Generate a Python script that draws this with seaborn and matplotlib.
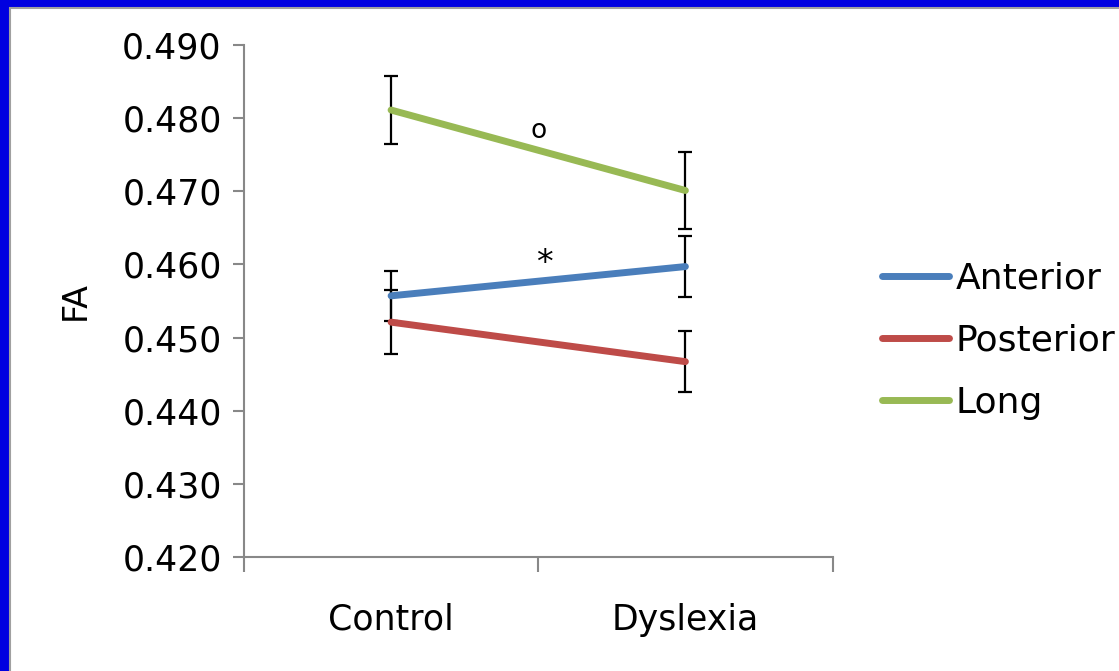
import pandas as pd
import matplotlib.pyplot as plt
import seaborn as sns
from matplotlib.patches import Rectangle

sns.set_style('white')
plt.rcParams['font.family'] = ['DejaVu Sans']
plt.rcParams['text.color'] = 'black'
plt.rcParams['axes.labelcolor'] = 'black'
plt.rcParams['xtick.color'] = '#888888'
plt.rcParams['ytick.color'] = '#888888'
plt.rcParams['xtick.labelcolor'] = 'black'
plt.rcParams['ytick.labelcolor'] = 'black'

groups = ['Control', 'Dyslexia']
regions = ['Anterior', 'Posterior', 'Long']
anterior = [0.4557, 0.4597]
posterior = [0.4521, 0.4467]
long_fa = [0.4811, 0.4701]
anterior_err = [0.0034, 0.0042]
posterior_err = [0.0044, 0.0042]
long_err = [0.0047, 0.0052]
colors = ['#4A7EBB', '#BE4B48', '#98B954']
yticks = [0.420, 0.430, 0.440, 0.450, 0.460, 0.470, 0.480, 0.490]

means = {'Anterior': anterior, 'Posterior': posterior, 'Long': long_fa}
errs = {'Anterior': anterior_err, 'Posterior': posterior_err, 'Long': long_err}

rows = []
for r in regions:
    for g, v, e in zip(groups, means[r], errs[r]):
        rows.append({'group': g, 'region': r, 'FA': v, 'err': e})
df = pd.DataFrame(rows)

fig = plt.figure(figsize=(11.19, 6.71), dpi=100)
fig.patch.set_facecolor('#0000E0')
# white slide area with thin grey edge
fig.patches.append(Rectangle((10 / 1119, -0.05), 1.1, 1.05 - 8 / 671,
                             transform=fig.transFigure, facecolor='white',
                             edgecolor='#A0A0A0', linewidth=1.5, zorder=-1))

ax = fig.add_axes([0.218, 0.170, 0.526, 0.763])
ax.set_facecolor('none')

# error bars underneath the lines
for r in regions:
    sub = df[df['region'] == r]
    ax.errorbar(sub['group'], sub['FA'], yerr=sub['err'], fmt='none',
                ecolor='black', elinewidth=1.6, capsize=4.7, capthick=1.6, zorder=2)

sns.lineplot(data=df, x='group', y='FA', hue='region', hue_order=regions,
             palette=colors, linewidth=5, solid_capstyle='round', ax=ax, zorder=3)

ax.text(0.5, 0.4782, 'o', ha='center', va='center', fontsize=19)
ax.text(0.52, 0.4601, '*', ha='center', va='center', fontsize=24)

ax.set_ylim(0.420, 0.490)
ax.set_yticks(yticks)
ax.set_yticklabels([f'{t:.3f}' for t in yticks])
ax.set_xlim(-0.5, 1.5)
ax.set_xticks([-0.5, 0.5, 1.5])
ax.set_xticklabels(['', '', ''])
ax.set_xticks([0, 1], labels=groups, minor=True)
ax.tick_params(axis='x', which='major', bottom=True, length=11, width=1.5, direction='out')
ax.tick_params(axis='x', which='minor', bottom=True, length=0, pad=33, labelsize=25)
ax.tick_params(axis='y', length=8, width=1.5, direction='out',
               pad=8, labelsize=25, left=True)

for s in ['top', 'right']:
    ax.spines[s].set_visible(False)
for s in ['left', 'bottom']:
    ax.spines[s].set_color('#888888')
    ax.spines[s].set_linewidth(1.5)

ax.set_xlabel('')
ax.set_ylabel('FA', fontsize=24, labelpad=22)

handles, labels = ax.get_legend_handles_labels()
ax.legend(handles, labels, loc='center left', bbox_to_anchor=(0.759, 0.4925),
          bbox_transform=fig.transFigure, frameon=False, fontsize=26,
          handlelength=1.85, handletextpad=0.2, labelspacing=0.78)

fig.savefig('out.png', dpi=100, facecolor=fig.get_facecolor())
